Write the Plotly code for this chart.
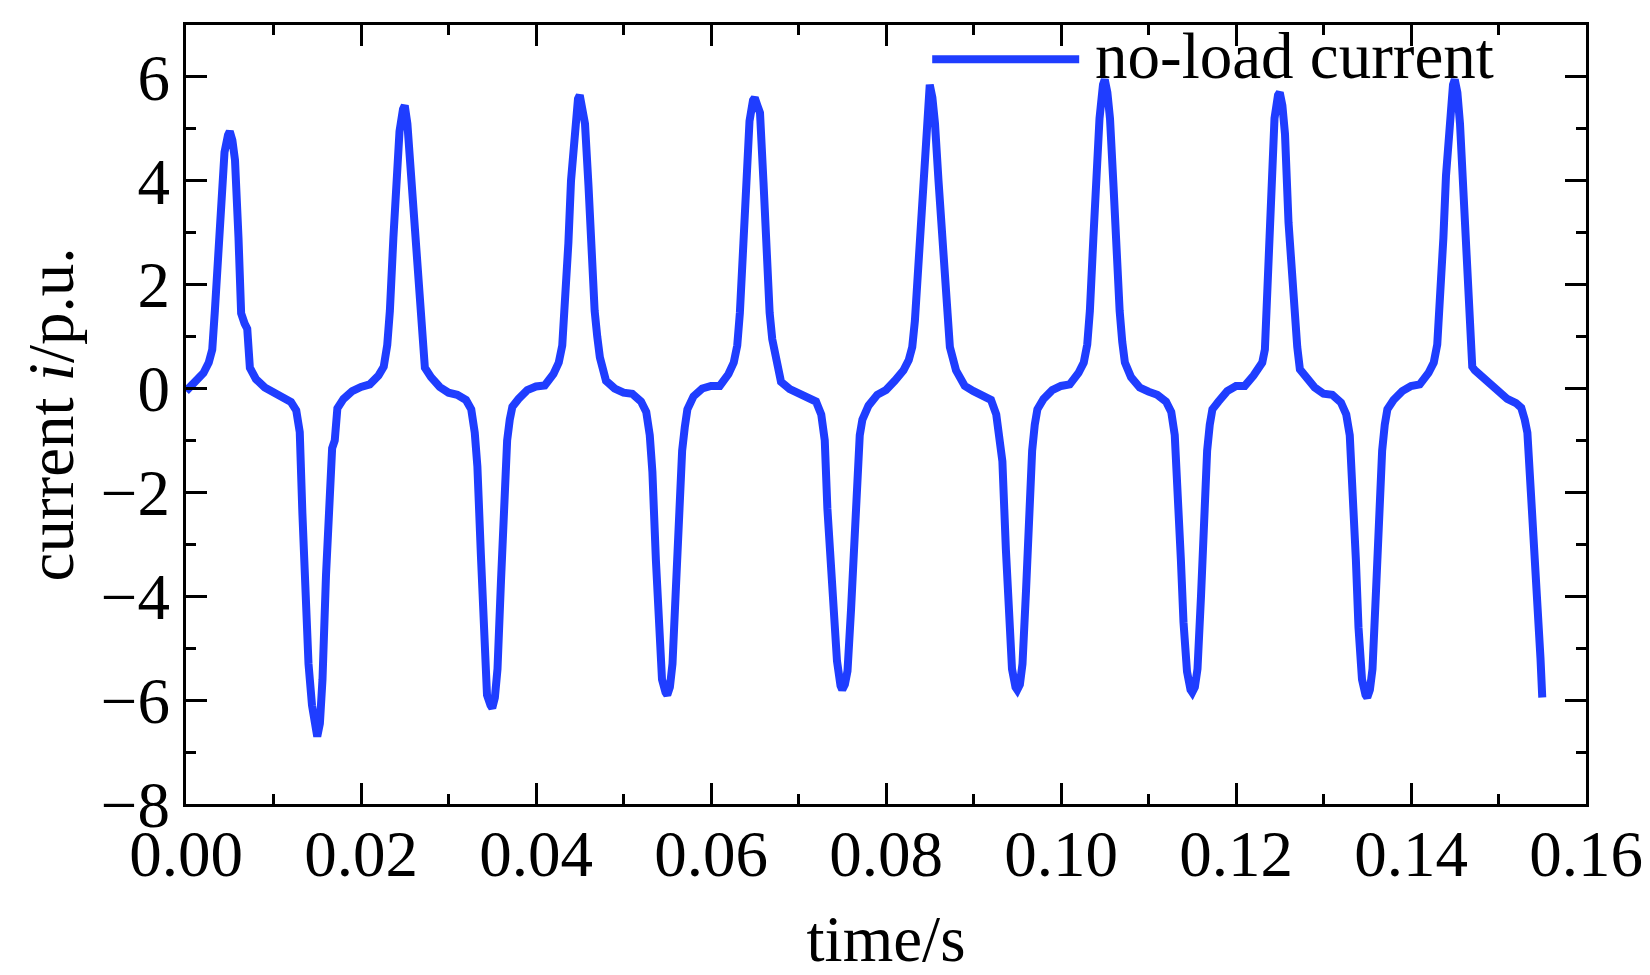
import plotly.graph_objects as go

time_s = [
    0.0000,
    0.0010, 0.0020, 0.0026, 0.0030, 0.0033, 0.0037, 0.0040, 0.0044, 0.0048, 0.0050,
    0.0053, 0.0056, 0.0060, 0.0063, 0.0067, 0.0070, 0.0073, 0.0080, 0.0090, 0.0100,
    0.0110, 0.0120, 0.0126, 0.0130, 0.0133, 0.0137, 0.0140, 0.0144, 0.0148, 0.0150,
    0.0153, 0.0156, 0.0160, 0.0163, 0.0167, 0.0170, 0.0173, 0.0180, 0.0190, 0.0200,
    0.0210, 0.0220, 0.0226, 0.0230, 0.0233, 0.0237, 0.0240, 0.0244, 0.0248, 0.0250,
    0.0253, 0.0256, 0.0260, 0.0263, 0.0267, 0.0270, 0.0273, 0.0280, 0.0290, 0.0300,
    0.0310, 0.0320, 0.0326, 0.0330, 0.0333, 0.0337, 0.0340, 0.0344, 0.0348, 0.0350,
    0.0353, 0.0356, 0.0360, 0.0363, 0.0367, 0.0370, 0.0373, 0.0380, 0.0390, 0.0400,
    0.0410, 0.0420, 0.0426, 0.0430, 0.0433, 0.0437, 0.0440, 0.0444, 0.0448, 0.0450,
    0.0453, 0.0456, 0.0460, 0.0463, 0.0467, 0.0470, 0.0473, 0.0480, 0.0490, 0.0500,
    0.0510, 0.0520, 0.0526, 0.0530, 0.0533, 0.0537, 0.0540, 0.0544, 0.0548, 0.0550,
    0.0553, 0.0556, 0.0560, 0.0563, 0.0567, 0.0570, 0.0573, 0.0580, 0.0590, 0.0600,
    0.0610, 0.0620, 0.0626, 0.0630, 0.0633, 0.0637, 0.0640, 0.0644, 0.0648, 0.0650,
    0.0653, 0.0656, 0.0660, 0.0663, 0.0667, 0.0670, 0.0673, 0.0680, 0.0690, 0.0700,
    0.0710, 0.0720, 0.0726, 0.0730, 0.0733, 0.0737, 0.0740, 0.0744, 0.0748, 0.0750,
    0.0753, 0.0756, 0.0760, 0.0763, 0.0767, 0.0770, 0.0773, 0.0780, 0.0790, 0.0800,
    0.0810, 0.0820, 0.0826, 0.0830, 0.0833, 0.0837, 0.0840, 0.0844, 0.0848, 0.0850,
    0.0853, 0.0856, 0.0860, 0.0863, 0.0867, 0.0870, 0.0873, 0.0880, 0.0890, 0.0900,
    0.0910, 0.0920, 0.0926, 0.0930, 0.0933, 0.0937, 0.0940, 0.0944, 0.0948, 0.0950,
    0.0953, 0.0956, 0.0960, 0.0963, 0.0967, 0.0970, 0.0973, 0.0980, 0.0990, 0.1000,
    0.1010, 0.1020, 0.1026, 0.1030, 0.1033, 0.1037, 0.1040, 0.1044, 0.1048, 0.1050,
    0.1053, 0.1056, 0.1060, 0.1063, 0.1067, 0.1070, 0.1073, 0.1080, 0.1090, 0.1100,
    0.1110, 0.1120, 0.1126, 0.1130, 0.1133, 0.1137, 0.1140, 0.1144, 0.1148, 0.1150,
    0.1153, 0.1156, 0.1160, 0.1163, 0.1167, 0.1170, 0.1173, 0.1180, 0.1190, 0.1200,
    0.1210, 0.1220, 0.1226, 0.1230, 0.1233, 0.1237, 0.1240, 0.1244, 0.1248, 0.1250,
    0.1253, 0.1256, 0.1260, 0.1263, 0.1267, 0.1270, 0.1273, 0.1280, 0.1290, 0.1300,
    0.1310, 0.1320, 0.1326, 0.1330, 0.1333, 0.1337, 0.1340, 0.1344, 0.1348, 0.1350,
    0.1353, 0.1356, 0.1360, 0.1363, 0.1367, 0.1370, 0.1373, 0.1380, 0.1390, 0.1400,
    0.1410, 0.1420, 0.1426, 0.1430, 0.1433, 0.1437, 0.1440, 0.1444, 0.1448, 0.1450,
    0.1453, 0.1456, 0.1460, 0.1463, 0.1467, 0.1470, 0.1473, 0.1480, 0.1490, 0.1500,
    0.1510, 0.1520, 0.1526, 0.1530, 0.1533, 0.1537, 0.1540, 0.1544, 0.1548, 0.1550,
]

current_pu = [
    -0.05,
    0.12, 0.30, 0.50, 0.75, 1.50, 2.45, 3.50, 4.55, 4.88, 4.95,
    4.78, 4.40, 2.90, 1.45, 1.25, 1.15, 0.40, 0.18, 0.02, -0.08,
    -0.15, -0.26, -0.42, -0.84, -2.40, -4.10, -5.30, -6.10, -6.60, -6.70,
    -6.45, -5.60, -3.60, -2.20, -1.15, -1.00, -0.38, -0.20, -0.05, 0.03,
    0.08, 0.25, 0.42, 0.84, 1.50, 2.90, 4.10, 4.95, 5.38, 5.45,
    5.10, 4.40, 3.30, 2.50, 1.50, 0.76, 0.40, 0.22, 0.03, -0.08,
    -0.12, -0.22, -0.40, -0.85, -1.50, -3.20, -4.50, -5.90, -6.10, -6.15,
    -5.95, -5.40, -3.70, -2.10, -1.00, -0.60, -0.35, -0.20, -0.03, 0.04,
    0.06, 0.28, 0.50, 0.83, 1.50, 2.80, 4.00, 5.10, 5.58, 5.65,
    5.45, 5.10, 3.90, 2.60, 1.50, 1.00, 0.60, 0.15, 0.00, -0.08,
    -0.10, -0.25, -0.45, -0.90, -1.60, -3.30, -4.60, -5.60, -5.85, -5.90,
    -5.75, -5.30, -3.80, -2.40, -1.20, -0.75, -0.40, -0.15, 0.00, 0.05,
    0.05, 0.28, 0.50, 0.83, 1.46, 2.79, 4.00, 5.15, 5.55, 5.60,
    5.45, 5.31, 3.97, 2.56, 1.46, 0.95, 0.67, 0.13, -0.01, -0.10,
    -0.15, -0.25, -0.50, -1.00, -2.31, -3.48, -4.35, -5.25, -5.72, -5.80,
    -5.70, -5.44, -4.27, -3.10, -1.37, -0.90, -0.60, -0.33, -0.12, -0.03,
    0.15, 0.35, 0.55, 0.80, 1.30, 2.40, 3.58, 4.70, 5.75, 5.85,
    5.60, 5.10, 4.00, 3.20, 2.00, 1.30, 0.80, 0.35, 0.05, -0.05,
    -0.12, -0.22, -0.50, -0.90, -1.40, -3.10, -4.50, -5.40, -5.75, -5.80,
    -5.70, -5.30, -3.90, -2.50, -1.20, -0.70, -0.40, -0.20, -0.03, 0.05,
    0.08, 0.30, 0.50, 0.85, 1.50, 2.90, 4.10, 5.20, 5.85, 5.95,
    5.70, 5.20, 3.90, 2.70, 1.50, 0.90, 0.50, 0.22, 0.02, -0.06,
    -0.12, -0.25, -0.45, -0.90, -1.70, -3.30, -4.50, -5.45, -5.80, -5.85,
    -5.75, -5.40, -4.00, -2.60, -1.20, -0.70, -0.40, -0.25, -0.05, 0.05,
    0.05, 0.25, 0.40, 0.50, 0.75, 2.50, 3.90, 5.20, 5.65, 5.70,
    5.45, 4.90, 3.20, 2.30, 1.30, 0.80, 0.37, 0.20, 0.02, -0.10,
    -0.12, -0.27, -0.50, -0.90, -1.80, -3.30, -4.60, -5.60, -5.90, -5.95,
    -5.80, -5.40, -3.90, -2.50, -1.20, -0.70, -0.40, -0.22, -0.05, 0.05,
    0.08, 0.30, 0.50, 0.85, 1.60, 2.90, 4.10, 5.20, 5.85, 5.95,
    5.70, 5.10, 3.60, 2.40, 1.00, 0.42, 0.35, 0.25, 0.10, -0.02,
    -0.20, -0.28, -0.37, -0.60, -0.85, -2.00, -2.80, -3.60, -5.20, -5.95,
]

x_ticks = [0.00, 0.02, 0.04, 0.06, 0.08, 0.10, 0.12, 0.14, 0.16]
y_ticks = [-8, -6, -4, -2, 0, 2, 4, 6]
series_name = "no-load current"

BLUE = "#1f3dff"
FONT = "Liberation Serif"
FSIZE = 65

fig = go.Figure()
fig.add_trace(go.Scatter(
    x=time_s, y=current_pu, mode="lines", name=series_name,
    line=dict(color=BLUE, width=8), showlegend=False,
))

axis_common = dict(
    ticks="inside", ticklen=21, tickwidth=3, tickcolor="black",
    showline=True, linewidth=3, linecolor="black", mirror="allticks",
    showgrid=False, zeroline=False,
    tickfont=dict(family=FONT, size=FSIZE, color="black"),
)

fig.update_xaxes(
    range=[0, 0.16], tickvals=x_ticks, tickformat=".2f",
    ticklabelstandoff=-9, automargin=False,
    minor=dict(dtick=0.01, tick0=0, ticks="inside", ticklen=10, tickwidth=3, tickcolor="black"),
    title=dict(text="time/s", font=dict(family=FONT, size=FSIZE, color="black"), standoff=28),
    **axis_common,
)
fig.update_yaxes(
    range=[-8, 7], tickvals=y_ticks,
    minor=dict(dtick=1, tick0=0, ticks="inside", ticklen=10, tickwidth=3, tickcolor="black"),
    title=dict(text="current <i>i</i>/p.u.", font=dict(family=FONT, size=FSIZE, color="black"), standoff=7),
    **axis_common,
)

# legend drawn by hand so the sample line is as long as in the original
fig.add_shape(type="line", xref="paper", yref="paper",
              x0=0.533, x1=0.638, y0=0.956, y1=0.956,
              line=dict(color=BLUE, width=8))
fig.add_annotation(text=series_name, xref="paper", yref="paper",
                   x=0.648, y=0.96, xanchor="left", yanchor="middle",
                   showarrow=False, font=dict(family=FONT, size=FSIZE, color="black"))

fig.update_layout(
    width=1650, height=975,
    margin=dict(l=186, r=64, t=25, b=171),
    paper_bgcolor="white", plot_bgcolor="white",
    font=dict(family=FONT, size=FSIZE, color="black"),
)

# drop the browser's default body margin so the figure sits at the page corner
fig.write_html("out.html", config={"displayModeBar": False},
               post_script="document.body.style.margin='0';")
